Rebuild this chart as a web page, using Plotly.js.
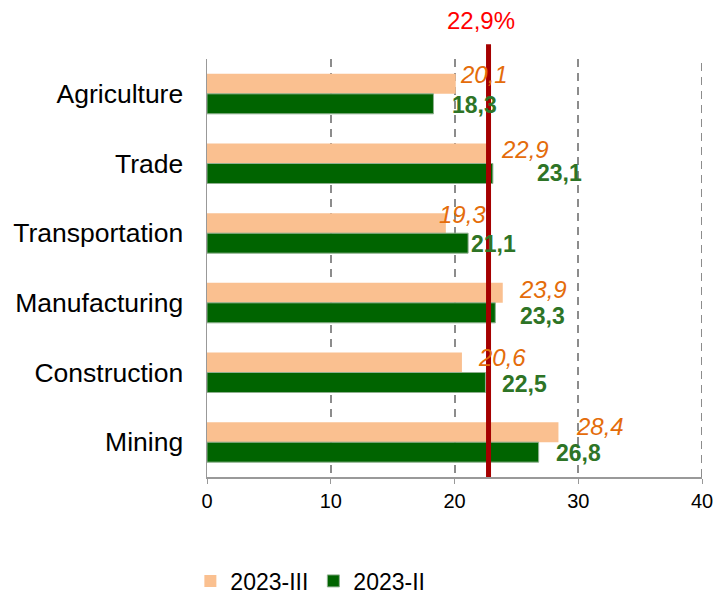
<!DOCTYPE html>
<html><head><meta charset="utf-8">
<script src="https://cdn.plot.ly/plotly-3.0.1.min.js"></script>
<style>html,body{margin:0;padding:0;background:#fff}#chart{width:713px;height:594px}</style>
</head><body><div id="chart"></div>
<script>
const categories = ["Agriculture","Trade","Transportation","Manufacturing","Construction","Mining"];
const seriesNames = ["2023-III","2023-II"];
const values2023III = [20.1, 22.9, 19.3, 23.9, 20.6, 28.4];
const values2023II  = [18.3, 23.1, 21.1, 23.3, 22.5, 26.8];
const labels2023III = ["20,1","22,9","19,3","23,9","20,6","28,4"];
const labels2023II  = ["18,3","23,1","21,1","23,3","22,5","26,8"];
const averageValue = 22.75;
const averageLabel = "22,9%";
const xTicks = [0,10,20,30,40];

// label nudges in pixels (layout only)
const xShiftIII = [2, 9, -9, 14, 14, 16];
const yShiftIII = [19, 14, 19, 13, 15, 16];
const xShiftII  = [17, 42, 1, 23, 15, 15];
const yShiftII  = [-11, -9, -11, -13, -11, -11];

const FONT = "Liberation Sans, Arial, sans-serif";
const traces = [
  {type:"bar", orientation:"h", name:seriesNames[0], y:categories, x:values2023III,
   marker:{color:"#FAC090"}, hoverinfo:"skip"},
  {type:"bar", orientation:"h", name:seriesNames[1], y:categories, x:values2023II,
   marker:{color:"#006400", line:{color:"#8FB08F", width:1}}, hoverinfo:"skip"}
];
const annotations = [];
categories.forEach((c,i)=>{
  annotations.push({x:values2023III[i], y:c, xref:"x", yref:"y", text:labels2023III[i],
    showarrow:false, xanchor:"left", yanchor:"middle", xshift:xShiftIII[i], yshift:yShiftIII[i],
    font:{family:FONT, size:24, color:"#E46C0A", style:"italic"}});
  annotations.push({x:values2023II[i], y:c, xref:"x", yref:"y", text:"<b>"+labels2023II[i]+"</b>",
    showarrow:false, xanchor:"left", yanchor:"middle", xshift:xShiftII[i], yshift:yShiftII[i],
    font:{family:FONT, size:23, color:"#2E7426"}});
});
annotations.push({x:averageValue, y:1, xref:"x", yref:"paper", yanchor:"middle", yshift:39, xshift:-8,
  text:averageLabel, showarrow:false, font:{family:FONT, size:24, color:"#FF0000"}});

const lastTick = xTicks[xTicks.length-1];
const layout = {
  width:713, height:594,
  margin:{l:207, r:11, t:59, b:117, autoexpand:false},
  paper_bgcolor:"#fff", plot_bgcolor:"#fff",
  barmode:"group", bargap:0.426, bargroupgap:0,
  font:{family:FONT, color:"#000"},
  xaxis:{range:[0,lastTick], tickvals:xTicks, ticktext:xTicks.map(String),
    showgrid:true, gridcolor:"#8c8c8c", griddash:"8px,6px", gridwidth:2,
    showline:true, linecolor:"#999", linewidth:1.5, ticks:"outside", ticklen:5, tickcolor:"#999",
    tickfont:{size:20, family:FONT}, zeroline:false, fixedrange:true, ticklabeloverflow:"allow", automargin:false},
  yaxis:{autorange:"reversed", showline:true, linecolor:"#999", linewidth:1.5,
    ticks:"", tickfont:{size:26.5, family:FONT}, ticklabelstandoff:17, showgrid:false, fixedrange:true, automargin:false},
  shapes:[
    {type:"line", xref:"x", yref:"paper", x0:lastTick, x1:lastTick, y0:0, y1:1,
     line:{color:"#8c8c8c", width:2, dash:"8px,6px"}, layer:"below"},
    {type:"line", xref:"x", yref:"paper", x0:averageValue, x1:averageValue, y0:0, y1:1.035,
     line:{color:"#A50000", width:5}, layer:"above"}],
  annotations:annotations,
  showlegend:true,
  legend:{orientation:"h", xref:"container", yref:"container", x:0.267, xanchor:"left", y:0.022, yanchor:"middle",
    font:{size:23, family:FONT}, itemwidth:30, traceorder:"normal"}
};
Plotly.newPlot("chart", traces, layout, {displayModeBar:false, staticPlot:true});
</script></body></html>
